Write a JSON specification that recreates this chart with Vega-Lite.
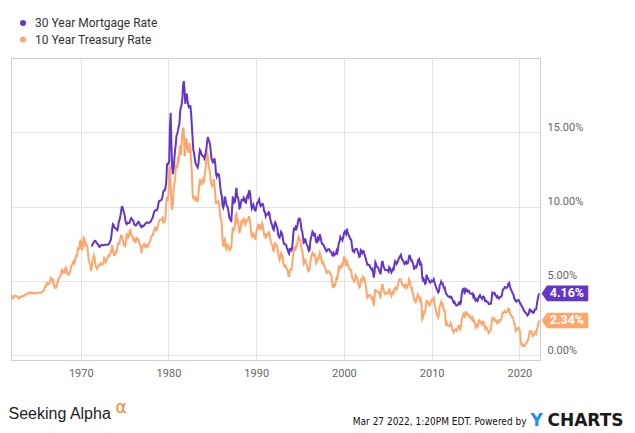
{
"$schema":"https://vega.github.io/schema/vega-lite/v6.json",
"autosize":"none",
"width":529,"height":302,
"padding":{"left":11,"top":58,"right":95,"bottom":73},
"background":"white",
"config":{"view":{"stroke":"#cccccc","strokeWidth":1},"font":"Roboto"},
"datasets":{
"last":[{"d":"2022-03-24","k":"m","v":4.16,"lab":"4.16%"},{"d":"2022-03-24","k":"t","v":2.34,"lab":"2.34%"}],
"rates":[
{"d":"1962-01","t":4.08},{"d":"1962-02","t":4.04},{"d":"1962-03","t":3.93},{"d":"1962-04","t":3.84},{"d":"1962-05","t":3.87},{"d":"1962-06","t":3.91},{"d":"1962-07","t":4.01},{"d":"1962-08","t":3.98},{"d":"1962-09","t":3.98},{"d":"1962-10","t":3.93},{"d":"1962-11","t":3.92},{"d":"1962-12","t":3.86},
{"d":"1963-01","t":3.83},{"d":"1963-02","t":3.92},{"d":"1963-03","t":3.93},{"d":"1963-04","t":3.97},{"d":"1963-05","t":3.93},{"d":"1963-06","t":3.99},{"d":"1963-07","t":4.02},{"d":"1963-08","t":4.00},{"d":"1963-09","t":4.08},{"d":"1963-10","t":4.11},{"d":"1963-11","t":4.12},{"d":"1963-12","t":4.13},
{"d":"1964-01","t":4.17},{"d":"1964-02","t":4.15},{"d":"1964-03","t":4.22},{"d":"1964-04","t":4.23},{"d":"1964-05","t":4.20},{"d":"1964-06","t":4.17},{"d":"1964-07","t":4.19},{"d":"1964-08","t":4.19},{"d":"1964-09","t":4.20},{"d":"1964-10","t":4.19},{"d":"1964-11","t":4.15},{"d":"1964-12","t":4.18},
{"d":"1965-01","t":4.19},{"d":"1965-02","t":4.21},{"d":"1965-03","t":4.21},{"d":"1965-04","t":4.20},{"d":"1965-05","t":4.21},{"d":"1965-06","t":4.21},{"d":"1965-07","t":4.20},{"d":"1965-08","t":4.25},{"d":"1965-09","t":4.29},{"d":"1965-10","t":4.35},{"d":"1965-11","t":4.45},{"d":"1965-12","t":4.62},
{"d":"1966-01","t":4.61},{"d":"1966-02","t":4.83},{"d":"1966-03","t":4.87},{"d":"1966-04","t":4.75},{"d":"1966-05","t":4.78},{"d":"1966-06","t":4.81},{"d":"1966-07","t":5.02},{"d":"1966-08","t":5.22},{"d":"1966-09","t":5.18},{"d":"1966-10","t":5.01},{"d":"1966-11","t":5.16},{"d":"1966-12","t":4.84},
{"d":"1967-01","t":4.58},{"d":"1967-02","t":4.63},{"d":"1967-03","t":4.54},{"d":"1967-04","t":4.59},{"d":"1967-05","t":4.85},{"d":"1967-06","t":5.02},{"d":"1967-07","t":5.16},{"d":"1967-08","t":5.28},{"d":"1967-09","t":5.30},{"d":"1967-10","t":5.48},{"d":"1967-11","t":5.75},{"d":"1967-12","t":5.70},
{"d":"1968-01","t":5.53},{"d":"1968-02","t":5.56},{"d":"1968-03","t":5.74},{"d":"1968-04","t":5.64},{"d":"1968-05","t":5.87},{"d":"1968-06","t":5.72},{"d":"1968-07","t":5.50},{"d":"1968-08","t":5.42},{"d":"1968-09","t":5.46},{"d":"1968-10","t":5.58},{"d":"1968-11","t":5.70},{"d":"1968-12","t":6.03},
{"d":"1969-01","t":6.04},{"d":"1969-02","t":6.19},{"d":"1969-03","t":6.30},{"d":"1969-04","t":6.17},{"d":"1969-05","t":6.32},{"d":"1969-06","t":6.57},{"d":"1969-07","t":6.72},{"d":"1969-08","t":6.69},{"d":"1969-09","t":7.16},{"d":"1969-10","t":7.10},{"d":"1969-11","t":7.14},{"d":"1969-12","t":7.65},
{"d":"1970-01","t":7.79},{"d":"1970-02","t":7.24},{"d":"1970-03","t":7.07},{"d":"1970-04","t":7.39},{"d":"1970-05","t":7.91},{"d":"1970-06","t":7.84},{"d":"1970-07","t":7.46},{"d":"1970-08","t":7.53},{"d":"1970-09","t":7.39},{"d":"1970-10","t":7.33},{"d":"1970-11","t":6.84},{"d":"1970-12","t":6.39},
{"d":"1971-01","t":6.24},{"d":"1971-02","t":6.11},{"d":"1971-03","t":5.70},{"d":"1971-04","t":5.83,"m":7.31},{"d":"1971-05","t":6.39,"m":7.43},{"d":"1971-06","t":6.52,"m":7.53},{"d":"1971-07","t":6.73,"m":7.60},{"d":"1971-08","t":6.58,"m":7.70},{"d":"1971-09","t":6.14,"m":7.69},{"d":"1971-10","t":5.93,"m":7.63},{"d":"1971-11","t":5.81,"m":7.55},{"d":"1971-12","t":5.93,"m":7.48},
{"d":"1972-01","t":5.95,"m":7.44},{"d":"1972-02","t":6.08,"m":7.32},{"d":"1972-03","t":6.07,"m":7.29},{"d":"1972-04","t":6.19,"m":7.37},{"d":"1972-05","t":6.13,"m":7.41},{"d":"1972-06","t":6.11,"m":7.40},{"d":"1972-07","t":6.11,"m":7.41},{"d":"1972-08","t":6.21,"m":7.40},{"d":"1972-09","t":6.55,"m":7.42},{"d":"1972-10","t":6.48,"m":7.43},{"d":"1972-11","t":6.28,"m":7.43},{"d":"1972-12","t":6.36,"m":7.44},
{"d":"1973-01","t":6.46,"m":7.44},{"d":"1973-02","t":6.64,"m":7.44},{"d":"1973-03","t":6.71,"m":7.46},{"d":"1973-04","t":6.67,"m":7.54},{"d":"1973-05","t":6.85,"m":7.65},{"d":"1973-06","t":6.90,"m":7.73},{"d":"1973-07","t":7.13,"m":8.05},{"d":"1973-08","t":7.40,"m":8.50},{"d":"1973-09","t":7.09,"m":8.82},{"d":"1973-10","t":6.79,"m":8.77},{"d":"1973-11","t":6.73,"m":8.58},{"d":"1973-12","t":6.74,"m":8.54},
{"d":"1974-01","t":6.99,"m":8.54},{"d":"1974-02","t":6.96,"m":8.46},{"d":"1974-03","t":7.21,"m":8.41},{"d":"1974-04","t":7.51,"m":8.58},{"d":"1974-05","t":7.58,"m":8.97},{"d":"1974-06","t":7.54,"m":9.09},{"d":"1974-07","t":7.81,"m":9.28},{"d":"1974-08","t":8.04,"m":9.59},{"d":"1974-09","t":8.04,"m":9.96},{"d":"1974-10","t":7.90,"m":9.98},{"d":"1974-11","t":7.68,"m":9.79},{"d":"1974-12","t":7.43,"m":9.62},
{"d":"1975-01","t":7.50,"m":9.43},{"d":"1975-02","t":7.39,"m":9.10},{"d":"1975-03","t":7.73,"m":8.89},{"d":"1975-04","t":8.23,"m":8.82},{"d":"1975-05","t":8.06,"m":8.91},{"d":"1975-06","t":7.86,"m":8.89},{"d":"1975-07","t":8.06,"m":8.89},{"d":"1975-08","t":8.40,"m":8.94},{"d":"1975-09","t":8.43,"m":9.13},{"d":"1975-10","t":8.14,"m":9.22},{"d":"1975-11","t":8.05,"m":9.15},{"d":"1975-12","t":8.00,"m":9.10},
{"d":"1976-01","t":7.74,"m":9.02},{"d":"1976-02","t":7.79,"m":8.81},{"d":"1976-03","t":7.73,"m":8.76},{"d":"1976-04","t":7.56,"m":8.73},{"d":"1976-05","t":7.90,"m":8.76},{"d":"1976-06","t":7.86,"m":8.85},{"d":"1976-07","t":7.83,"m":8.93},{"d":"1976-08","t":7.77,"m":8.98},{"d":"1976-09","t":7.59,"m":8.92},{"d":"1976-10","t":7.41,"m":8.75},{"d":"1976-11","t":7.29,"m":8.67},{"d":"1976-12","t":6.87,"m":8.62},
{"d":"1977-01","t":7.21,"m":8.72},{"d":"1977-02","t":7.39,"m":8.67},{"d":"1977-03","t":7.46,"m":8.69},{"d":"1977-04","t":7.37,"m":8.75},{"d":"1977-05","t":7.46,"m":8.83},{"d":"1977-06","t":7.28,"m":8.86},{"d":"1977-07","t":7.33,"m":8.94},{"d":"1977-08","t":7.40,"m":8.94},{"d":"1977-09","t":7.34,"m":8.90},{"d":"1977-10","t":7.52,"m":8.92},{"d":"1977-11","t":7.58,"m":8.92},{"d":"1977-12","t":7.69,"m":8.96},
{"d":"1978-01","t":7.96,"m":9.02},{"d":"1978-02","t":8.03,"m":9.15},{"d":"1978-03","t":8.04,"m":9.20},{"d":"1978-04","t":8.15,"m":9.36},{"d":"1978-05","t":8.35,"m":9.57},{"d":"1978-06","t":8.46,"m":9.71},{"d":"1978-07","t":8.64,"m":9.74},{"d":"1978-08","t":8.41,"m":9.78},{"d":"1978-09","t":8.42,"m":9.76},{"d":"1978-10","t":8.64,"m":9.86},{"d":"1978-11","t":8.81,"m":10.11},{"d":"1978-12","t":9.01,"m":10.35},
{"d":"1979-01","t":9.10,"m":10.39},{"d":"1979-02","t":9.10,"m":10.41},{"d":"1979-03","t":9.12,"m":10.43},{"d":"1979-04","t":9.18,"m":10.50},{"d":"1979-05","t":9.25,"m":10.69},{"d":"1979-06","t":8.91,"m":11.04},{"d":"1979-07","t":8.95,"m":11.09},{"d":"1979-08","t":9.03,"m":11.09},{"d":"1979-09","t":9.33,"m":11.30},{"d":"1979-10","t":10.30,"m":11.64},{"d":"1979-11","t":10.65,"m":12.83},{"d":"1979-12","t":10.39,"m":12.90},
{"d":"1980-01","t":10.80,"m":12.88},{"d":"1980-02","t":12.41,"m":13.04},{"d":"1980-03","t":12.75,"m":15.28},{"d":"1980-04","t":11.47,"m":16.32},{"d":"1980-05","t":10.18,"m":14.26},{"d":"1980-06","t":9.78,"m":12.71},{"d":"1980-07","t":10.25,"m":12.19},{"d":"1980-08","t":11.10,"m":12.56},{"d":"1980-09","t":11.51,"m":13.20},{"d":"1980-10","t":11.75,"m":13.79},{"d":"1980-11","t":12.68,"m":14.21},{"d":"1980-12","t":12.84,"m":14.79},
{"d":"1981-01","t":12.57,"m":14.90},{"d":"1981-02","t":13.19,"m":15.13},{"d":"1981-03","t":13.12,"m":15.40},{"d":"1981-04","t":13.68,"m":15.58},{"d":"1981-05","t":14.10,"m":16.40},{"d":"1981-06","t":13.47,"m":16.70},{"d":"1981-07","t":14.28,"m":16.83},{"d":"1981-08","t":14.94,"m":17.29},{"d":"1981-09","t":15.32,"m":18.16},{"d":"1981-10","t":15.15,"m":18.45},{"d":"1981-11","t":13.39,"m":17.83},{"d":"1981-12","t":13.72,"m":16.92},
{"d":"1982-01","t":14.59,"m":17.40},{"d":"1982-02","t":14.43,"m":17.60},{"d":"1982-03","t":13.86,"m":17.16},{"d":"1982-04","t":13.87,"m":16.89},{"d":"1982-05","t":13.62,"m":16.68},{"d":"1982-06","t":14.30,"m":16.70},{"d":"1982-07","t":13.95,"m":16.82},{"d":"1982-08","t":13.06,"m":16.27},{"d":"1982-09","t":12.34,"m":15.43},{"d":"1982-10","t":10.91,"m":14.61},{"d":"1982-11","t":10.55,"m":13.82},{"d":"1982-12","t":10.54,"m":13.62},
{"d":"1983-01","t":10.46,"m":13.25},{"d":"1983-02","t":10.72,"m":12.92},{"d":"1983-03","t":10.51,"m":12.82},{"d":"1983-04","t":10.40,"m":12.71},{"d":"1983-05","t":10.38,"m":12.63},{"d":"1983-06","t":10.85,"m":12.87},{"d":"1983-07","t":11.38,"m":13.42},{"d":"1983-08","t":11.85,"m":13.81},{"d":"1983-09","t":11.65,"m":13.73},{"d":"1983-10","t":11.54,"m":13.54},{"d":"1983-11","t":11.69,"m":13.44},{"d":"1983-12","t":11.83,"m":13.42},
{"d":"1984-01","t":11.67,"m":13.37},{"d":"1984-02","t":11.84,"m":13.23},{"d":"1984-03","t":12.32,"m":13.39},{"d":"1984-04","t":12.63,"m":13.65},{"d":"1984-05","t":13.41,"m":13.94},{"d":"1984-06","t":13.56,"m":14.42},{"d":"1984-07","t":13.36,"m":14.67},{"d":"1984-08","t":12.72,"m":14.47},{"d":"1984-09","t":12.52,"m":14.35},{"d":"1984-10","t":12.16,"m":14.13},{"d":"1984-11","t":11.57,"m":13.64},{"d":"1984-12","t":11.50,"m":13.18},
{"d":"1985-01","t":11.38,"m":13.08},{"d":"1985-02","t":11.51,"m":12.92},{"d":"1985-03","t":11.86,"m":13.17},{"d":"1985-04","t":11.43,"m":13.20},{"d":"1985-05","t":10.85,"m":12.91},{"d":"1985-06","t":10.16,"m":12.22},{"d":"1985-07","t":10.31,"m":12.03},{"d":"1985-08","t":10.33,"m":12.19},{"d":"1985-09","t":10.37,"m":12.19},{"d":"1985-10","t":10.24,"m":12.14},{"d":"1985-11","t":9.78,"m":11.78},{"d":"1985-12","t":9.26,"m":11.26},
{"d":"1986-01","t":9.19,"m":10.88},{"d":"1986-02","t":8.70,"m":10.71},{"d":"1986-03","t":7.78,"m":10.08},{"d":"1986-04","t":7.30,"m":9.94},{"d":"1986-05","t":7.71,"m":10.14},{"d":"1986-06","t":7.80,"m":10.68},{"d":"1986-07","t":7.30,"m":10.51},{"d":"1986-08","t":7.17,"m":10.20},{"d":"1986-09","t":7.45,"m":10.01},{"d":"1986-10","t":7.43,"m":9.98},{"d":"1986-11","t":7.25,"m":9.70},{"d":"1986-12","t":7.11,"m":9.31},
{"d":"1987-01","t":7.08,"m":9.20},{"d":"1987-02","t":7.25,"m":9.08},{"d":"1987-03","t":7.25,"m":9.04},{"d":"1987-04","t":8.02,"m":9.83},{"d":"1987-05","t":8.61,"m":10.60},{"d":"1987-06","t":8.40,"m":10.54},{"d":"1987-07","t":8.45,"m":10.28},{"d":"1987-08","t":8.76,"m":10.33},{"d":"1987-09","t":9.42,"m":10.89},{"d":"1987-10","t":9.52,"m":11.26},{"d":"1987-11","t":8.86,"m":10.65},{"d":"1987-12","t":8.99,"m":10.64},
{"d":"1988-01","t":8.67,"m":10.38},{"d":"1988-02","t":8.21,"m":9.89},{"d":"1988-03","t":8.37,"m":9.93},{"d":"1988-04","t":8.72,"m":10.20},{"d":"1988-05","t":9.09,"m":10.46},{"d":"1988-06","t":8.92,"m":10.46},{"d":"1988-07","t":9.06,"m":10.43},{"d":"1988-08","t":9.26,"m":10.60},{"d":"1988-09","t":8.98,"m":10.48},{"d":"1988-10","t":8.80,"m":10.30},{"d":"1988-11","t":8.96,"m":10.27},{"d":"1988-12","t":9.11,"m":10.61},
{"d":"1989-01","t":9.09,"m":10.73},{"d":"1989-02","t":9.17,"m":10.65},{"d":"1989-03","t":9.36,"m":11.03},{"d":"1989-04","t":9.18,"m":11.05},{"d":"1989-05","t":8.86,"m":10.77},{"d":"1989-06","t":8.28,"m":10.20},{"d":"1989-07","t":8.02,"m":9.88},{"d":"1989-08","t":8.11,"m":9.99},{"d":"1989-09","t":8.19,"m":10.13},{"d":"1989-10","t":8.01,"m":9.95},{"d":"1989-11","t":7.87,"m":9.77},{"d":"1989-12","t":7.84,"m":9.74},
{"d":"1990-01","t":8.21,"m":9.90},{"d":"1990-02","t":8.47,"m":10.20},{"d":"1990-03","t":8.59,"m":10.27},{"d":"1990-04","t":8.79,"m":10.37},{"d":"1990-05","t":8.76,"m":10.48},{"d":"1990-06","t":8.48,"m":10.16},{"d":"1990-07","t":8.47,"m":10.04},{"d":"1990-08","t":8.75,"m":10.10},{"d":"1990-09","t":8.89,"m":10.18},{"d":"1990-10","t":8.72,"m":10.18},{"d":"1990-11","t":8.39,"m":9.97},{"d":"1990-12","t":8.08,"m":9.67},
{"d":"1991-01","t":8.09,"m":9.64},{"d":"1991-02","t":7.85,"m":9.37},{"d":"1991-03","t":8.11,"m":9.50},{"d":"1991-04","t":8.04,"m":9.49},{"d":"1991-05","t":8.07,"m":9.47},{"d":"1991-06","t":8.28,"m":9.62},{"d":"1991-07","t":8.27,"m":9.58},{"d":"1991-08","t":7.90,"m":9.24},{"d":"1991-09","t":7.65,"m":9.01},{"d":"1991-10","t":7.53,"m":8.86},{"d":"1991-11","t":7.42,"m":8.71},{"d":"1991-12","t":7.09,"m":8.50},
{"d":"1992-01","t":7.03,"m":8.43},{"d":"1992-02","t":7.34,"m":8.76},{"d":"1992-03","t":7.54,"m":8.94},{"d":"1992-04","t":7.48,"m":8.85},{"d":"1992-05","t":7.39,"m":8.67},{"d":"1992-06","t":7.26,"m":8.51},{"d":"1992-07","t":6.84,"m":8.13},{"d":"1992-08","t":6.59,"m":7.98},{"d":"1992-09","t":6.42,"m":7.92},{"d":"1992-10","t":6.59,"m":8.09},{"d":"1992-11","t":6.87,"m":8.31},{"d":"1992-12","t":6.77,"m":8.22},
{"d":"1993-01","t":6.60,"m":8.02},{"d":"1993-02","t":6.26,"m":7.68},{"d":"1993-03","t":5.98,"m":7.50},{"d":"1993-04","t":5.97,"m":7.47},{"d":"1993-05","t":6.04,"m":7.47},{"d":"1993-06","t":5.96,"m":7.42},{"d":"1993-07","t":5.81,"m":7.21},{"d":"1993-08","t":5.68,"m":7.11},{"d":"1993-09","t":5.36,"m":6.92},{"d":"1993-10","t":5.33,"m":6.83},{"d":"1993-11","t":5.72,"m":7.16},{"d":"1993-12","t":5.77,"m":7.17},
{"d":"1994-01","t":5.75,"m":7.06},{"d":"1994-02","t":5.97,"m":7.15},{"d":"1994-03","t":6.48,"m":7.68},{"d":"1994-04","t":6.97,"m":8.32},{"d":"1994-05","t":7.18,"m":8.60},{"d":"1994-06","t":7.10,"m":8.40},{"d":"1994-07","t":7.30,"m":8.61},{"d":"1994-08","t":7.24,"m":8.51},{"d":"1994-09","t":7.46,"m":8.64},{"d":"1994-10","t":7.74,"m":8.93},{"d":"1994-11","t":7.96,"m":9.17},{"d":"1994-12","t":7.81,"m":9.20},
{"d":"1995-01","t":7.78,"m":9.15},{"d":"1995-02","t":7.47,"m":8.83},{"d":"1995-03","t":7.20,"m":8.46},{"d":"1995-04","t":7.06,"m":8.32},{"d":"1995-05","t":6.63,"m":7.96},{"d":"1995-06","t":6.17,"m":7.57},{"d":"1995-07","t":6.28,"m":7.61},{"d":"1995-08","t":6.49,"m":7.86},{"d":"1995-09","t":6.20,"m":7.64},{"d":"1995-10","t":6.04,"m":7.48},{"d":"1995-11","t":5.93,"m":7.38},{"d":"1995-12","t":5.71,"m":7.20},
{"d":"1996-01","t":5.65,"m":7.03},{"d":"1996-02","t":5.81,"m":7.08},{"d":"1996-03","t":6.27,"m":7.62},{"d":"1996-04","t":6.51,"m":7.93},{"d":"1996-05","t":6.74,"m":8.07},{"d":"1996-06","t":6.91,"m":8.32},{"d":"1996-07","t":6.87,"m":8.25},{"d":"1996-08","t":6.64,"m":8.00},{"d":"1996-09","t":6.83,"m":8.23},{"d":"1996-10","t":6.53,"m":7.92},{"d":"1996-11","t":6.20,"m":7.62},{"d":"1996-12","t":6.30,"m":7.60},
{"d":"1997-01","t":6.58,"m":7.82},{"d":"1997-02","t":6.42,"m":7.65},{"d":"1997-03","t":6.69,"m":7.90},{"d":"1997-04","t":6.89,"m":8.14},{"d":"1997-05","t":6.71,"m":7.94},{"d":"1997-06","t":6.49,"m":7.69},{"d":"1997-07","t":6.22,"m":7.50},{"d":"1997-08","t":6.30,"m":7.48},{"d":"1997-09","t":6.21,"m":7.43},{"d":"1997-10","t":6.03,"m":7.29},{"d":"1997-11","t":5.88,"m":7.21},{"d":"1997-12","t":5.81,"m":7.10},
{"d":"1998-01","t":5.54,"m":6.99},{"d":"1998-02","t":5.57,"m":7.04},{"d":"1998-03","t":5.65,"m":7.13},{"d":"1998-04","t":5.64,"m":7.14},{"d":"1998-05","t":5.65,"m":7.14},{"d":"1998-06","t":5.50,"m":7.00},{"d":"1998-07","t":5.46,"m":6.95},{"d":"1998-08","t":5.34,"m":6.92},{"d":"1998-09","t":4.81,"m":6.72},{"d":"1998-10","t":4.53,"m":6.71},{"d":"1998-11","t":4.83,"m":6.87},{"d":"1998-12","t":4.65,"m":6.74},
{"d":"1999-01","t":4.72,"m":6.79},{"d":"1999-02","t":5.00,"m":6.81},{"d":"1999-03","t":5.23,"m":7.04},{"d":"1999-04","t":5.18,"m":6.92},{"d":"1999-05","t":5.54,"m":7.15},{"d":"1999-06","t":5.90,"m":7.55},{"d":"1999-07","t":5.79,"m":7.63},{"d":"1999-08","t":5.94,"m":7.94},{"d":"1999-09","t":5.92,"m":7.82},{"d":"1999-10","t":6.11,"m":7.85},{"d":"1999-11","t":6.03,"m":7.74},{"d":"1999-12","t":6.28,"m":7.91},
{"d":"2000-01","t":6.66,"m":8.21},{"d":"2000-02","t":6.52,"m":8.32},{"d":"2000-03","t":6.26,"m":8.24},{"d":"2000-04","t":5.99,"m":8.15},{"d":"2000-05","t":6.44,"m":8.52},{"d":"2000-06","t":6.10,"m":8.29},{"d":"2000-07","t":6.05,"m":8.15},{"d":"2000-08","t":5.83,"m":8.03},{"d":"2000-09","t":5.80,"m":7.91},{"d":"2000-10","t":5.74,"m":7.80},{"d":"2000-11","t":5.72,"m":7.75},{"d":"2000-12","t":5.24,"m":7.38},
{"d":"2001-01","t":5.16,"m":7.03},{"d":"2001-02","t":5.10,"m":7.05},{"d":"2001-03","t":4.89,"m":6.95},{"d":"2001-04","t":5.14,"m":7.08},{"d":"2001-05","t":5.39,"m":7.15},{"d":"2001-06","t":5.28,"m":7.16},{"d":"2001-07","t":5.24,"m":7.13},{"d":"2001-08","t":4.97,"m":6.95},{"d":"2001-09","t":4.73,"m":6.82},{"d":"2001-10","t":4.57,"m":6.62},{"d":"2001-11","t":4.65,"m":6.66},{"d":"2001-12","t":5.09,"m":7.07},
{"d":"2002-01","t":5.04,"m":7.00},{"d":"2002-02","t":4.91,"m":6.89},{"d":"2002-03","t":5.28,"m":7.01},{"d":"2002-04","t":5.21,"m":6.99},{"d":"2002-05","t":5.16,"m":6.81},{"d":"2002-06","t":4.93,"m":6.65},{"d":"2002-07","t":4.65,"m":6.49},{"d":"2002-08","t":4.26,"m":6.29},{"d":"2002-09","t":3.87,"m":6.09},{"d":"2002-10","t":3.94,"m":6.11},{"d":"2002-11","t":4.05,"m":6.07},{"d":"2002-12","t":4.03,"m":6.05},
{"d":"2003-01","t":4.05,"m":5.92},{"d":"2003-02","t":3.90,"m":5.84},{"d":"2003-03","t":3.81,"m":5.75},{"d":"2003-04","t":3.96,"m":5.81},{"d":"2003-05","t":3.57,"m":5.48},{"d":"2003-06","t":3.33,"m":5.23},{"d":"2003-07","t":3.98,"m":5.63},{"d":"2003-08","t":4.45,"m":6.26},{"d":"2003-09","t":4.27,"m":6.15},{"d":"2003-10","t":4.29,"m":5.95},{"d":"2003-11","t":4.30,"m":5.93},{"d":"2003-12","t":4.27,"m":5.88},
{"d":"2004-01","t":4.15,"m":5.71},{"d":"2004-02","t":4.08,"m":5.64},{"d":"2004-03","t":3.83,"m":5.45},{"d":"2004-04","t":4.35,"m":5.83},{"d":"2004-05","t":4.72,"m":6.27},{"d":"2004-06","t":4.73,"m":6.29},{"d":"2004-07","t":4.50,"m":6.06},{"d":"2004-08","t":4.28,"m":5.87},{"d":"2004-09","t":4.13,"m":5.75},{"d":"2004-10","t":4.10,"m":5.72},{"d":"2004-11","t":4.19,"m":5.73},{"d":"2004-12","t":4.23,"m":5.75},
{"d":"2005-01","t":4.22,"m":5.71},{"d":"2005-02","t":4.17,"m":5.63},{"d":"2005-03","t":4.50,"m":5.93},{"d":"2005-04","t":4.34,"m":5.86},{"d":"2005-05","t":4.14,"m":5.72},{"d":"2005-06","t":4.00,"m":5.58},{"d":"2005-07","t":4.18,"m":5.70},{"d":"2005-08","t":4.26,"m":5.82},{"d":"2005-09","t":4.20,"m":5.77},{"d":"2005-10","t":4.46,"m":6.07},{"d":"2005-11","t":4.54,"m":6.33},{"d":"2005-12","t":4.47,"m":6.27},
{"d":"2006-01","t":4.42,"m":6.15},{"d":"2006-02","t":4.57,"m":6.25},{"d":"2006-03","t":4.72,"m":6.32},{"d":"2006-04","t":4.99,"m":6.51},{"d":"2006-05","t":5.11,"m":6.60},{"d":"2006-06","t":5.11,"m":6.68},{"d":"2006-07","t":5.09,"m":6.76},{"d":"2006-08","t":4.88,"m":6.52},{"d":"2006-09","t":4.72,"m":6.40},{"d":"2006-10","t":4.73,"m":6.36},{"d":"2006-11","t":4.60,"m":6.24},{"d":"2006-12","t":4.56,"m":6.14},
{"d":"2007-01","t":4.76,"m":6.22},{"d":"2007-02","t":4.72,"m":6.29},{"d":"2007-03","t":4.56,"m":6.16},{"d":"2007-04","t":4.69,"m":6.18},{"d":"2007-05","t":4.75,"m":6.26},{"d":"2007-06","t":5.10,"m":6.66},{"d":"2007-07","t":5.00,"m":6.70},{"d":"2007-08","t":4.67,"m":6.57},{"d":"2007-09","t":4.52,"m":6.38},{"d":"2007-10","t":4.53,"m":6.38},{"d":"2007-11","t":4.15,"m":6.21},{"d":"2007-12","t":4.10,"m":6.10},
{"d":"2008-01","t":3.74,"m":5.76},{"d":"2008-02","t":3.74,"m":5.92},{"d":"2008-03","t":3.51,"m":5.97},{"d":"2008-04","t":3.68,"m":5.92},{"d":"2008-05","t":3.88,"m":6.04},{"d":"2008-06","t":4.10,"m":6.32},{"d":"2008-07","t":4.01,"m":6.43},{"d":"2008-08","t":3.89,"m":6.48},{"d":"2008-09","t":3.69,"m":6.04},{"d":"2008-10","t":3.81,"m":6.20},{"d":"2008-11","t":3.53,"m":6.09},{"d":"2008-12","t":2.42,"m":5.33},
{"d":"2009-01","t":2.52,"m":5.06},{"d":"2009-02","t":2.87,"m":5.13},{"d":"2009-03","t":2.82,"m":5.00},{"d":"2009-04","t":2.93,"m":4.81},{"d":"2009-05","t":3.29,"m":4.86},{"d":"2009-06","t":3.72,"m":5.42},{"d":"2009-07","t":3.56,"m":5.22},{"d":"2009-08","t":3.59,"m":5.19},{"d":"2009-09","t":3.40,"m":5.06},{"d":"2009-10","t":3.39,"m":4.95},{"d":"2009-11","t":3.40,"m":4.88},{"d":"2009-12","t":3.59,"m":4.93},
{"d":"2010-01","t":3.73,"m":5.03},{"d":"2010-02","t":3.69,"m":4.99},{"d":"2010-03","t":3.73,"m":4.97},{"d":"2010-04","t":3.85,"m":5.10},{"d":"2010-05","t":3.42,"m":4.89},{"d":"2010-06","t":3.20,"m":4.74},{"d":"2010-07","t":3.01,"m":4.56},{"d":"2010-08","t":2.70,"m":4.43},{"d":"2010-09","t":2.65,"m":4.35},{"d":"2010-10","t":2.54,"m":4.23},{"d":"2010-11","t":2.76,"m":4.30},{"d":"2010-12","t":3.29,"m":4.71},
{"d":"2011-01","t":3.39,"m":4.76},{"d":"2011-02","t":3.58,"m":4.95},{"d":"2011-03","t":3.41,"m":4.84},{"d":"2011-04","t":3.46,"m":4.84},{"d":"2011-05","t":3.17,"m":4.64},{"d":"2011-06","t":3.00,"m":4.51},{"d":"2011-07","t":3.00,"m":4.55},{"d":"2011-08","t":2.30,"m":4.27},{"d":"2011-09","t":1.98,"m":4.11},{"d":"2011-10","t":2.15,"m":4.07},{"d":"2011-11","t":2.01,"m":3.99},{"d":"2011-12","t":1.98,"m":3.96},
{"d":"2012-01","t":1.97,"m":3.92},{"d":"2012-02","t":1.97,"m":3.89},{"d":"2012-03","t":2.17,"m":3.95},{"d":"2012-04","t":2.05,"m":3.91},{"d":"2012-05","t":1.80,"m":3.80},{"d":"2012-06","t":1.62,"m":3.68},{"d":"2012-07","t":1.53,"m":3.55},{"d":"2012-08","t":1.68,"m":3.60},{"d":"2012-09","t":1.72,"m":3.50},{"d":"2012-10","t":1.75,"m":3.38},{"d":"2012-11","t":1.65,"m":3.35},{"d":"2012-12","t":1.72,"m":3.35},
{"d":"2013-01","t":1.91,"m":3.41},{"d":"2013-02","t":1.98,"m":3.53},{"d":"2013-03","t":1.96,"m":3.57},{"d":"2013-04","t":1.76,"m":3.45},{"d":"2013-05","t":1.93,"m":3.54},{"d":"2013-06","t":2.30,"m":4.07},{"d":"2013-07","t":2.58,"m":4.37},{"d":"2013-08","t":2.74,"m":4.46},{"d":"2013-09","t":2.81,"m":4.49},{"d":"2013-10","t":2.62,"m":4.19},{"d":"2013-11","t":2.72,"m":4.26},{"d":"2013-12","t":2.90,"m":4.46},
{"d":"2014-01","t":2.86,"m":4.43},{"d":"2014-02","t":2.71,"m":4.30},{"d":"2014-03","t":2.72,"m":4.34},{"d":"2014-04","t":2.71,"m":4.34},{"d":"2014-05","t":2.56,"m":4.19},{"d":"2014-06","t":2.60,"m":4.16},{"d":"2014-07","t":2.54,"m":4.13},{"d":"2014-08","t":2.42,"m":4.12},{"d":"2014-09","t":2.53,"m":4.16},{"d":"2014-10","t":2.30,"m":3.92},{"d":"2014-11","t":2.33,"m":4.00},{"d":"2014-12","t":2.21,"m":3.86},
{"d":"2015-01","t":1.88,"m":3.67},{"d":"2015-02","t":1.98,"m":3.71},{"d":"2015-03","t":2.04,"m":3.77},{"d":"2015-04","t":1.94,"m":3.67},{"d":"2015-05","t":2.20,"m":3.84},{"d":"2015-06","t":2.36,"m":3.98},{"d":"2015-07","t":2.32,"m":4.05},{"d":"2015-08","t":2.17,"m":3.91},{"d":"2015-09","t":2.17,"m":3.89},{"d":"2015-10","t":2.07,"m":3.80},{"d":"2015-11","t":2.26,"m":3.94},{"d":"2015-12","t":2.24,"m":3.96},
{"d":"2016-01","t":2.09,"m":3.87},{"d":"2016-02","t":1.78,"m":3.66},{"d":"2016-03","t":1.89,"m":3.69},{"d":"2016-04","t":1.81,"m":3.61},{"d":"2016-05","t":1.81,"m":3.60},{"d":"2016-06","t":1.64,"m":3.57},{"d":"2016-07","t":1.50,"m":3.44},{"d":"2016-08","t":1.56,"m":3.44},{"d":"2016-09","t":1.63,"m":3.46},{"d":"2016-10","t":1.76,"m":3.47},{"d":"2016-11","t":2.14,"m":3.77},{"d":"2016-12","t":2.49,"m":4.20},
{"d":"2017-01","t":2.43,"m":4.15},{"d":"2017-02","t":2.42,"m":4.17},{"d":"2017-03","t":2.48,"m":4.20},{"d":"2017-04","t":2.30,"m":4.05},{"d":"2017-05","t":2.30,"m":4.01},{"d":"2017-06","t":2.19,"m":3.90},{"d":"2017-07","t":2.32,"m":3.97},{"d":"2017-08","t":2.21,"m":3.88},{"d":"2017-09","t":2.20,"m":3.81},{"d":"2017-10","t":2.36,"m":3.90},{"d":"2017-11","t":2.35,"m":3.92},{"d":"2017-12","t":2.40,"m":3.95},
{"d":"2018-01","t":2.58,"m":4.03},{"d":"2018-02","t":2.86,"m":4.33},{"d":"2018-03","t":2.84,"m":4.44},{"d":"2018-04","t":2.87,"m":4.47},{"d":"2018-05","t":2.98,"m":4.59},{"d":"2018-06","t":2.91,"m":4.57},{"d":"2018-07","t":2.89,"m":4.53},{"d":"2018-08","t":2.89,"m":4.55},{"d":"2018-09","t":3.00,"m":4.63},{"d":"2018-10","t":3.15,"m":4.83},{"d":"2018-11","t":3.12,"m":4.87},{"d":"2018-12","t":2.83,"m":4.64},
{"d":"2019-01","t":2.71,"m":4.46},{"d":"2019-02","t":2.68,"m":4.37},{"d":"2019-03","t":2.57,"m":4.27},{"d":"2019-04","t":2.53,"m":4.14},{"d":"2019-05","t":2.40,"m":4.07},{"d":"2019-06","t":2.07,"m":3.80},{"d":"2019-07","t":2.06,"m":3.77},{"d":"2019-08","t":1.63,"m":3.62},{"d":"2019-09","t":1.70,"m":3.61},{"d":"2019-10","t":1.71,"m":3.69},{"d":"2019-11","t":1.81,"m":3.70},{"d":"2019-12","t":1.86,"m":3.72},
{"d":"2020-01","t":1.76,"m":3.62},{"d":"2020-02","t":1.50,"m":3.47},{"d":"2020-03","t":0.87,"m":3.45},{"d":"2020-04","t":0.66,"m":3.31},{"d":"2020-05","t":0.67,"m":3.23},{"d":"2020-06","t":0.73,"m":3.16},{"d":"2020-07","t":0.62,"m":3.02},{"d":"2020-08","t":0.65,"m":2.94},{"d":"2020-09","t":0.68,"m":2.89},{"d":"2020-10","t":0.79,"m":2.83},{"d":"2020-11","t":0.87,"m":2.77},{"d":"2020-12","t":0.93,"m":2.68},
{"d":"2021-01","t":1.08,"m":2.74},{"d":"2021-02","t":1.26,"m":2.81},{"d":"2021-03","t":1.61,"m":3.08},{"d":"2021-04","t":1.64,"m":3.06},{"d":"2021-05","t":1.62,"m":2.96},{"d":"2021-06","t":1.52,"m":2.98},{"d":"2021-07","t":1.32,"m":2.87},{"d":"2021-08","t":1.28,"m":2.84},{"d":"2021-09","t":1.37,"m":2.90},{"d":"2021-10","t":1.58,"m":3.07},{"d":"2021-11","t":1.56,"m":3.07},{"d":"2021-12","t":1.47,"m":3.10},
{"d":"2022-01","t":1.76,"m":3.45},{"d":"2022-02","t":1.93,"m":3.76},{"d":"2022-03-24","t":2.34,"m":4.16}
]},
"layer":[
{
"data":{"name":"rates"},
"transform":[{"fold":["m","t"],"as":["k","v"]},{"filter":{"field":"v","valid":true}}],
"mark":{"type":"line","strokeWidth":2,"clip":true},
"encoding":{
"x":{"field":"d","type":"temporal","scale":{"type":"utc","nice":false,"domain":[{"year":1962,"month":1,"date":19,"utc":true},{"year":2022,"month":5,"date":8,"utc":true}]},
"axis":{"orient":"bottom","values":[{"year":1970,"utc":true},{"year":1980,"utc":true},{"year":1990,"utc":true},{"year":2000,"utc":true},{"year":2010,"utc":true},{"year":2020,"utc":true}],"format":"%Y","grid":true,"gridColor":"#e3e3e3","domain":false,"ticks":false,"labelPadding":7,"labelFont":"Roboto","labelFontSize":11,"labelColor":"#666666","title":"Mar 27 2022, 1:20PM EDT.  Powered by","titleX":515,"titleY":64,"titleAlign":"right","titleBaseline":"alphabetic","titleAngle":0,"titleFont":"DejaVu Sans Condensed, Liberation Sans, sans-serif","titleFontSize":10,"titleFontWeight":"normal","titleColor":"#111111"}},
"y":{"field":"v","type":"quantitative","scale":{"domain":[-0.32,20],"nice":false,"zero":false},
"axis":{"orient":"right","values":[0,5,10,15],"grid":true,"gridColor":"#e3e3e3","domain":false,"ticks":false,"labelPadding":7,"labelFont":"Roboto","labelFontSize":11,"labelColor":"#666666","labelAlign":"left","labelBaseline":"alphabetic","labelOffset":-2,"labelExpr":"format(datum.value,'.2f')+'%'","title":"α","titleX":-425,"titleY":354,"titleAngle":0,"titleAlign":"left","titleBaseline":"alphabetic","titleFont":"DejaVu Sans","titleFontSize":17,"titleFontWeight":"normal","titleColor":"#f7882f"}},
"color":{"field":"k","type":"nominal","scale":{"domain":["m","t"],"range":["#6236c8","#ffa66c"]},
"legend":{"orient":"none","legendX":6,"legendY":-41,"title":null,"direction":"vertical","symbolType":"circle","symbolSize":36,"symbolStrokeWidth":0,"labelFont":"Roboto","labelFontSize":12,"labelColor":"#333333","labelOffset":6,"rowPadding":4.5,"labelExpr":"datum.label == 'm' ? '30 Year Mortgage Rate' : '10 Year Treasury Rate'","encode":{"symbols":{"update":{"fill":{"scale":"color","field":"value"},"opacity":{"value":1}}}}}}
}
},
{
"data":{"name":"last"},
"mark":{"type":"point","shape":"M-1,0L-0.77,-0.335L1,-0.335L1,0.335L-0.77,0.335Z","size":2172,"filled":true,"opacity":1,"xOffset":26,"clip":false},
"encoding":{
"x":{"field":"d","type":"temporal","scale":{"type":"utc","nice":false,"domain":[{"year":1962,"month":1,"date":19,"utc":true},{"year":2022,"month":5,"date":8,"utc":true}]},
"axis":{"orient":"bottom","grid":false,"labels":false,"ticks":false,"domain":false,"title":"Seeking Alpha","titleX":-3,"titleY":58,"titleAlign":"left","titleBaseline":"alphabetic","titleAngle":0,"titleFont":"Liberation Sans","titleFontSize":16,"titleFontWeight":"normal","titleColor":"#222222"}},
"y":{"field":"v","type":"quantitative","scale":{"domain":[-0.32,20],"nice":false,"zero":false},
"axis":{"orient":"right","grid":false,"labels":false,"ticks":false,"domain":false,"title":"Y","titleX":-10,"titleY":367,"titleAlign":"left","titleBaseline":"alphabetic","titleAngle":0,"titleFont":"DejaVu Sans","titleFontSize":17,"titleFontWeight":"bold","titleColor":"#1e8ff0"}},
"color":{"field":"k","type":"nominal","legend":null}
}
},
{
"data":{"name":"last"},
"mark":{"type":"text","xOffset":28,"color":"white","font":"Roboto","fontWeight":"bold","fontSize":12.5,"align":"center","baseline":"middle","clip":false},
"encoding":{
"x":{"field":"d","type":"temporal","scale":{"type":"utc","nice":false,"domain":[{"year":1962,"month":1,"date":19,"utc":true},{"year":2022,"month":5,"date":8,"utc":true}]},"axis":null},
"y":{"field":"v","type":"quantitative","scale":{"domain":[-0.32,20],"nice":false,"zero":false},
"axis":{"orient":"right","grid":false,"labels":false,"ticks":false,"domain":false,"title":"CHARTS","titleX":7,"titleY":367,"titleAlign":"left","titleBaseline":"alphabetic","titleAngle":0,"titleFont":"DejaVu Sans","titleFontSize":17,"titleFontWeight":"bold","titleColor":"#1a1a1a"}},
"text":{"field":"lab"}
}
}
],
"resolve":{"axis":{"x":"independent","y":"independent"}}
}
